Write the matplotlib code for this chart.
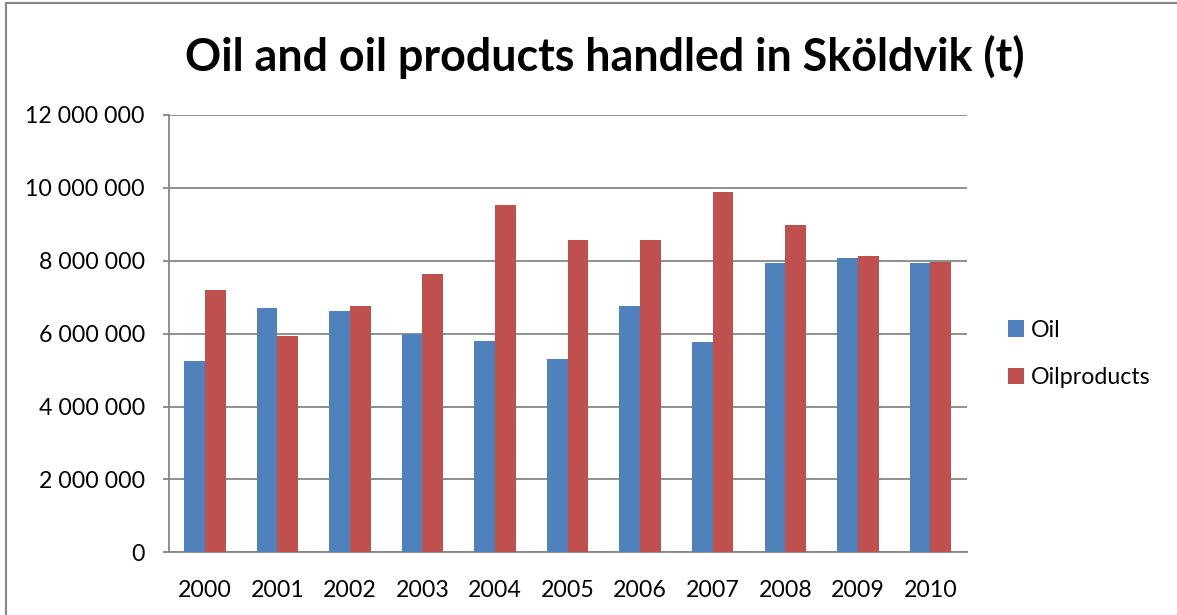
import matplotlib
matplotlib.use("Agg")
import matplotlib.pyplot as plt
import numpy as np
from matplotlib.patches import Rectangle
from matplotlib.ticker import FuncFormatter

years = ["2000", "2001", "2002", "2003", "2004", "2005",
         "2006", "2007", "2008", "2009", "2010"]
oil = [5250000, 6710000, 6620000, 6000000, 5810000, 5310000,
       6760000, 5780000, 7940000, 8080000, 7930000]
oil_products = [7190000, 5930000, 6770000, 7640000, 9540000, 8560000,
                8580000, 9890000, 8970000, 8130000, 7970000]

title = "Oil and oil products handled in Sköldvik (t)"
series_names = ["Oil", "Oilproducts"]
colors = ["#4F81BD", "#C0504D"]

plt.rcParams["font.family"] = ["Lato", "DejaVu Sans"]

W, H = 1177, 615
fig = plt.figure(figsize=(W / 100, H / 100), dpi=100)

# plot area in pixel coordinates
left, right, top, bottom = 168.5, 966.7, 115.0, 552.3
ax = fig.add_axes([left / W, 1 - bottom / H, (right - left) / W, (bottom - top) / H])

x = np.arange(len(years))
bw = 1 / 3.5
ax.bar(x - bw / 2, oil, width=bw, color=colors[0], label=series_names[0], zorder=3)
ax.bar(x + bw / 2, oil_products, width=bw, color=colors[1], label=series_names[1], zorder=3)

ax.set_xlim(-0.5, len(years) - 0.5)
ax.set_ylim(0, 12000000)
ax.set_yticks(np.arange(0, 12000001, 2000000))
ax.yaxis.set_major_formatter(FuncFormatter(lambda v, p: f"{int(v):,}".replace(",", " ")))
ax.set_xticks(x)
ax.set_xticklabels(years)

grid_c = "#868686"
ax.grid(axis="y", color=grid_c, linewidth=1.3, zorder=0)
for s in ["top", "right"]:
    ax.spines[s].set_visible(False)
for s in ["left", "bottom"]:
    ax.spines[s].set_color(grid_c)
    ax.spines[s].set_linewidth(1.3)
ax.tick_params(axis="y", length=4, width=1.3, color=grid_c, pad=13, labelsize=16.7)
ax.tick_params(axis="x", length=0, pad=20, labelsize=16.7)

fig.text(605 / W, 1 - 57 / H, title, ha="center", va="center",
         fontsize=32.3, fontweight="bold")

handles, labels = ax.get_legend_handles_labels()
fig.legend(handles, labels, loc="center left", bbox_to_anchor=(987 / W, 1 - 354 / H),
           frameon=False, fontsize=16.7, handlelength=0.7, handleheight=0.7,
           handletextpad=0.3, labelspacing=1.15)

# outer chart border
fig.patches.append(Rectangle((5.5 / W, -0.1), 1.2, 1 - 2.5 / H + 0.1,
                             transform=fig.transFigure, fill=False,
                             edgecolor="#868686", linewidth=1.5))

fig.savefig("out.png", dpi=100)
